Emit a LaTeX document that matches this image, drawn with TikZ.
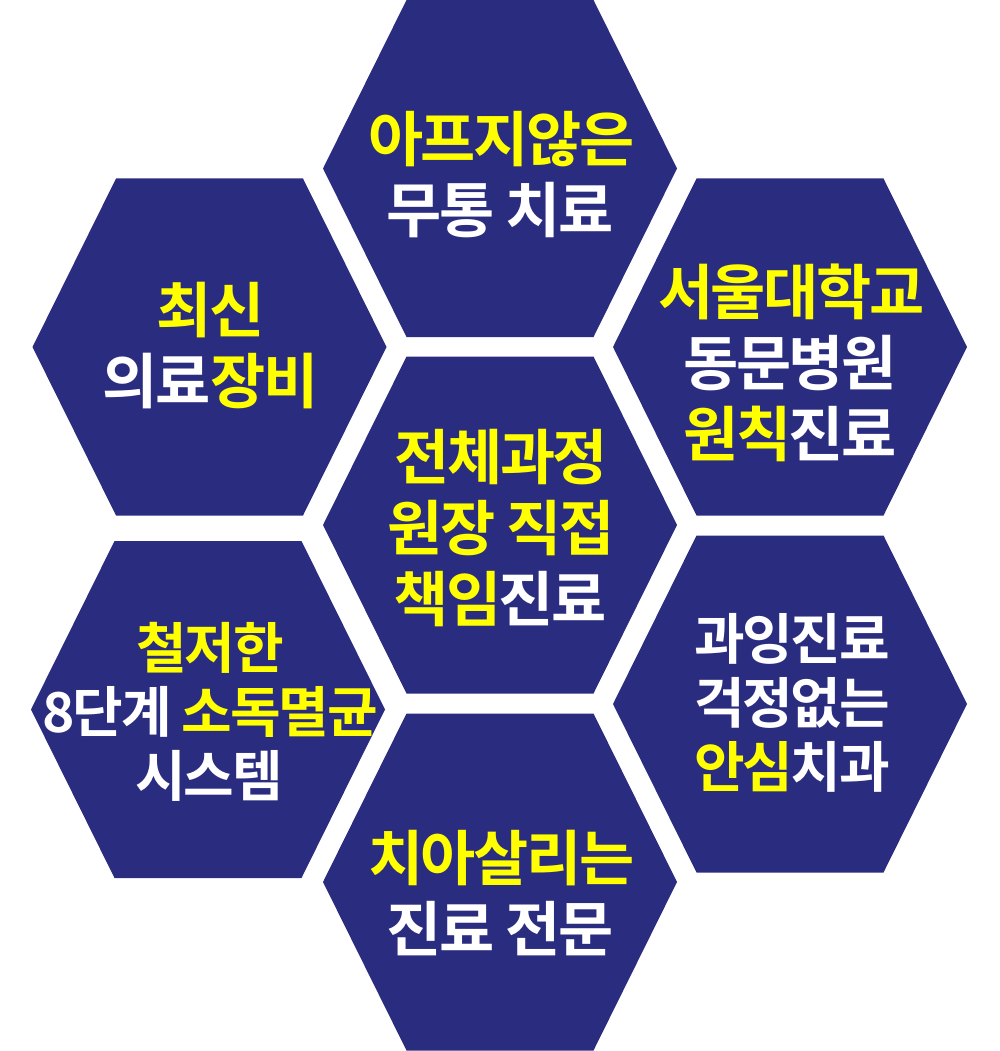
\documentclass[tikz,border=0pt]{standalone}
\usepackage{fontspec}
\usepackage{tikz}
\newfontfamily\krfont[LetterSpace=-4]{Noto Sans CJK KR Bold}
\definecolor{hexblue}{RGB}{42,44,128}
\definecolor{hlyellow}{RGB}{255,255,0}
\newcommand{\hl}[1]{\textcolor{hlyellow}{#1}\kern-0.04em}

\begin{document}
\begin{tikzpicture}[x=1pt,y=-1pt,
    hexa/.style={fill=hexblue},
    lbl/.style={text=white, align=center, inner sep=0pt,
      font=\krfont\fontsize{60}{71}\selectfont},
    lblsmall/.style={lbl, font=\krfont\fontsize{55}{64}\selectfont}]
    \useasboundingbox (0,0) rectangle (1000,1051);
    % seven hexagons
    \foreach \cx/\cy in {500/168.5, 209.5/347, 790/347, 500/525, 208/709.5, 790/704, 500/882}
      \fill[hexa] (\cx-177,\cy) -- (\cx-93.5,\cy-168.5) -- (\cx+93.5,\cy-168.5)
        -- (\cx+177,\cy) -- (\cx+93.5,\cy+168.5) -- (\cx-93.5,\cy+168.5) -- cycle;
    \node[lbl] (painless) at (500,175) {\hl{아프지않은}\\무통 치료};
    \node[lbl] (equip) at (209,346) {\hl{최신}\\의료\hl{장비}};
    \node[lbl] (snu) at (790,363) {\hl{서울대학교}\\동문병원\\\hl{원칙}진료};
    \node[lbl] (director) at (500,528) {\hl{전체과정}\\\hl{원장 직접}\\\hl{책임}진료};
    \node[lblsmall] (sterile) at (209,712) {\hl{철저한}\\8단계 \hl{소독멸균}\\시스템};
    \node[lblsmall] (safe) at (792,703) {과잉진료\\걱정없는\\\hl{안심}치과};
    \node[lbl] (saving) at (500,893) {\hl{치아살리는}\\진료 전문};
\end{tikzpicture}
\end{document}
